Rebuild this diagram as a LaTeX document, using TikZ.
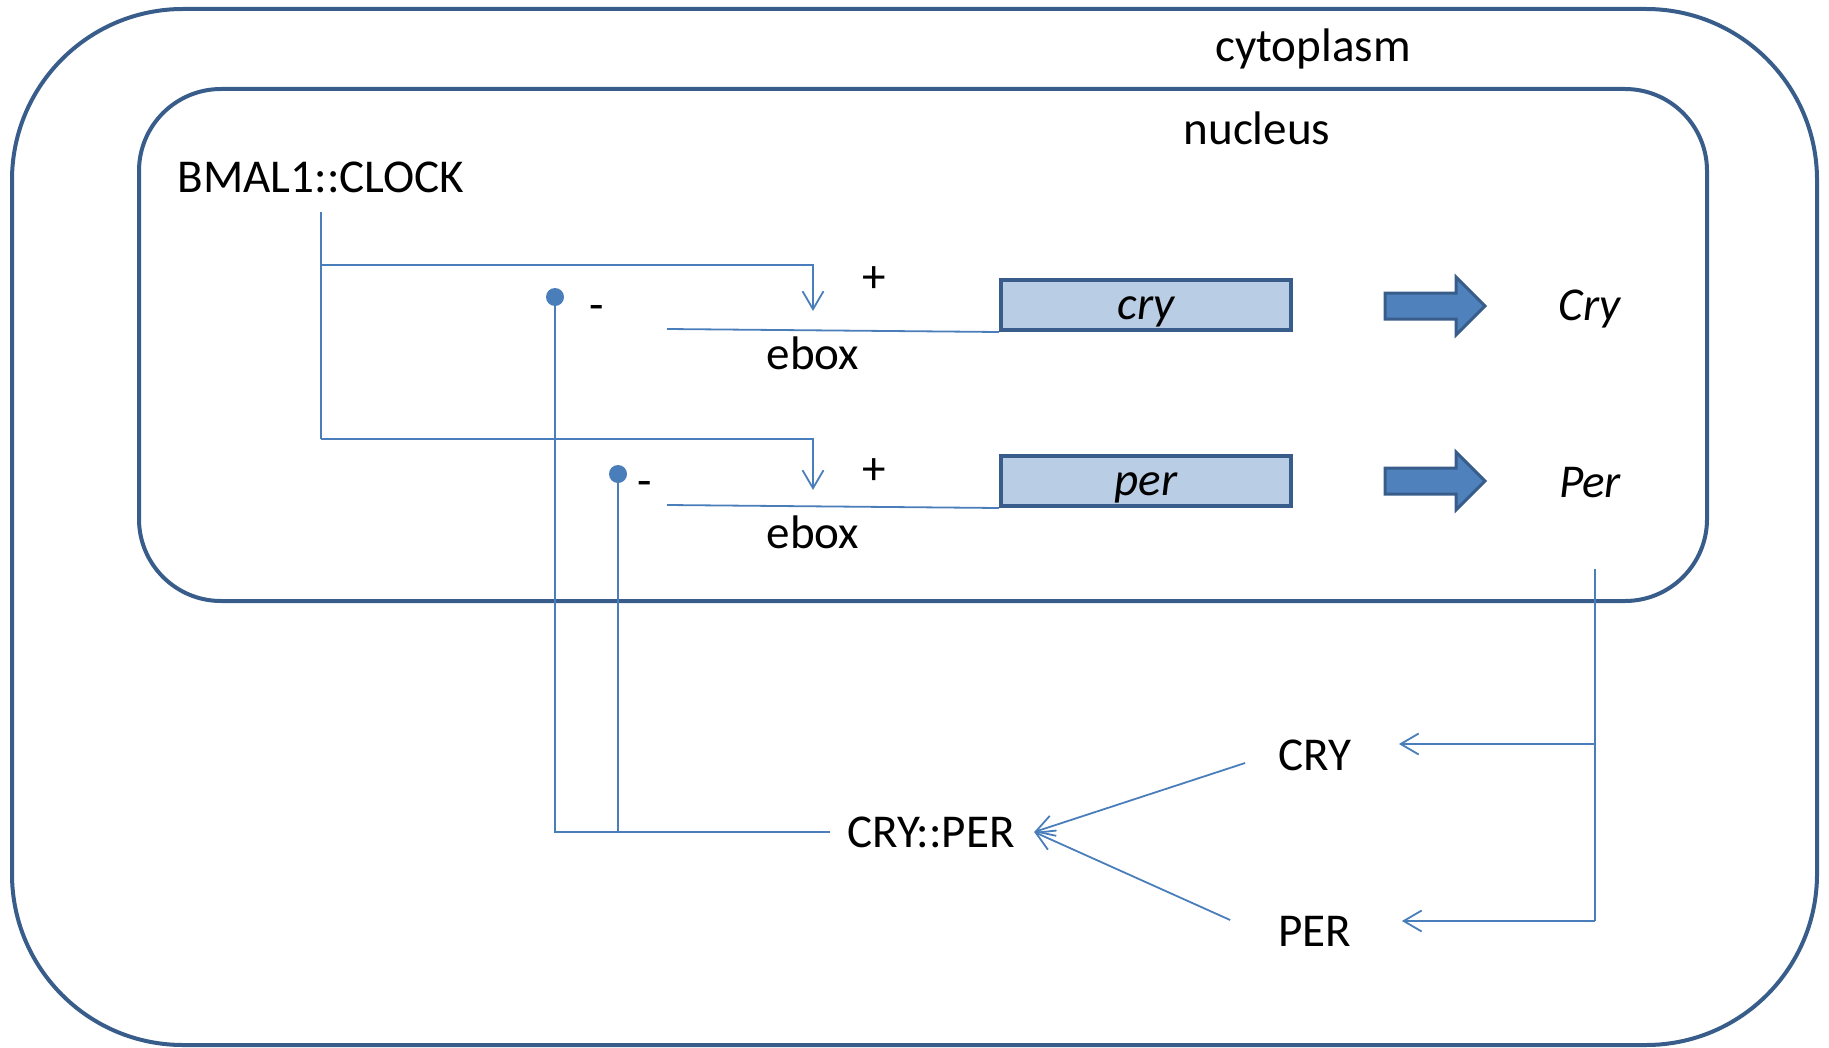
\documentclass[tikz,border=0pt]{standalone}
\usepackage{fontspec}
\setmainfont{Carlito}
\usetikzlibrary{arrows.meta}
\definecolor{boxline}{RGB}{56,93,138}
\definecolor{linkcol}{RGB}{74,126,187}
\definecolor{genefill}{RGB}{185,205,229}
\definecolor{arrfill}{RGB}{79,129,189}

\begin{document}
\begin{tikzpicture}[x=0.1mm, y=-0.1mm, font=\fontsize{13.4}{16}\selectfont,
  compart/.style={draw=boxline, line width=0.4mm},
  gene/.style={draw=boxline, fill=genefill, line width=0.4mm, minimum width=29mm, minimum height=5mm, inner sep=0pt, text height=2.9mm, text depth=0pt, font=\fontsize{13.4}{16}\selectfont\itshape},
  link/.style={draw=linkcol, line width=0.18mm},
  act/.style={link, -{Straight Barb[length=1.8mm, width=2.1mm, line width=0.18mm]}},
  dotnode/.style={circle, fill=linkcol, inner sep=0pt, minimum size=1.8mm},
  blockarr/.style={draw=boxline, fill=arrfill, line width=0.3mm, line join=miter}]
  \useasboundingbox (0,0) rectangle (1829,1047);
  % cell and nucleus
  \draw[compart, rounded corners=17.1mm] (12,9) rectangle (1817,1045);
  \draw[compart, rounded corners=8.2mm] (139,89) rectangle (1707,601);
  \node (cyto) at (1313,49) {cytoplasm};
  \node (nuc) at (1257,128) {nucleus};
  \node (bmal) at (321,177) {BMAL1::CLOCK};
  % genes
  \node[gene] (cry) at (1146,305) {cry};
  \node[gene] (per) at (1146,481) {per};
  \node (ebox1) at (813,353) {ebox};
  \node (ebox2) at (813,532) {ebox};
  \node (plus1) at (874,280) {+};
  \node (plus2) at (874,472) {+};
  \node (minus1) at (597,313) {-};
  \node (minus2) at (645,489) {-};
  \node[dotnode] (dot1) at (555,297) {};
  \node[dotnode] (dot2) at (618,474) {};
  \coordinate (site1) at (813,311);
  \coordinate (site2) at (813,490);
  \coordinate (e1) at (667,329);
  \coordinate (e2) at (667,505);
  \draw[link] (e1) -- (cry.south west);
  \draw[link] (e2) -- (per.south west);
  % activation
  \draw[link] ([shift={(0,7)}]bmal.south) -- (321,439);
  \draw[act] (321,265) -| (site1);
  \draw[act] (321,439) -| (site2);
  % translation
  \foreach \y in {306,481} {
    \draw[blockarr] (1385,\y-13) -- (1456,\y-13) -- (1456,\y-29) -- (1485,\y) -- (1456,\y+29) -- (1456,\y+13) -- (1385,\y+13) -- cycle;
  }
  \node[font=\fontsize{13.4}{16}\selectfont\itshape] (Cryp) at (1590,309) {Cry};
  \node[font=\fontsize{13.4}{16}\selectfont\itshape] (Perp) at (1590,483) {Per};
  % cytoplasm
  \node (CRY) at (1315,755) {CRY};
  \node (PER) at (1315,931) {PER};
  \node (cp) at (931,832) {CRY::PER};
  \coordinate (fb) at (1595,569);
  \draw[link] (fb) -- (1595,921);
  \draw[act] (1595,744) -- ([shift={(35,-11)}]CRY.east);
  \draw[act] (1595,921) -- ([shift={(38,-10)}]PER.east);
  \draw[act] ([shift={(-21,8)}]CRY.west) -- ([shift={(7,0)}]cp.east);
  \draw[act] ([shift={(-36,-11)}]PER.west) -- ([shift={(7,0)}]cp.east);
  % repression
  \draw[link] (dot1.center) |- ([shift={(-5,0)}]cp.west);
  \draw[link] (dot2.center) -- (dot2.center |- cp.west);
\end{tikzpicture}
\end{document}
